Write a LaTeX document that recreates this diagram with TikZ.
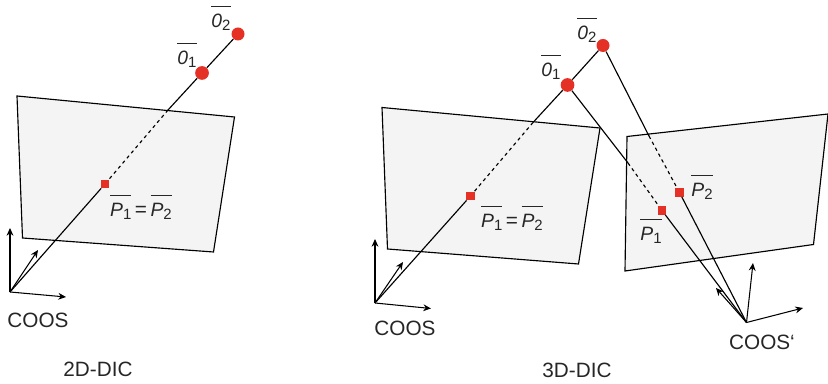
\documentclass[tikz,border=0pt]{standalone}
\usepackage{fontspec}
\setmainfont{Liberation Sans}
\usetikzlibrary{arrows.meta}
\definecolor{dotred}{HTML}{E43025}
\definecolor{platefill}{HTML}{F4F4F4}
\newcommand{\barlabel}[2]{$\overline{\mbox{\fontsize{11pt}{13pt}\selectfont\rule{0pt}{10.6pt}\itshape #1\raisebox{-.35ex}{\upshape\fontsize{8.5pt}{10pt}\selectfont #2}}}$}
\tikzset{
	plate/.style={draw=black,fill=platefill,line width=0.65pt,line join=miter},
	ray/.style={black,line width=0.65pt},
	hidden/.style={ray,dash pattern=on 1.9pt off 1.9pt},
	axis/.style={black,line width=0.6pt,-{Stealth[length=4.4pt,width=3.9pt]}},
	focus/.style={circle,fill=dotred,inner sep=0pt,minimum size=7.8pt},
	point/.style={rectangle,fill=dotred,inner sep=0pt,minimum size=4.6pt},
	lbl/.style={font=\fontsize{11.8pt}{14pt}\selectfont,text=black!85,inner sep=0pt}
}
\begin{document}
\begin{tikzpicture}[x=0.02cm,y=-0.02cm]
			\useasboundingbox (0,0) rectangle (828,384);
			
			% 2D-DIC
			\draw [plate] (17,96) -- (234.5,117) -- (213.5,252) -- (22.5,238) -- cycle;
			\coordinate (coosA) at (10,292);
			\coordinate (crossA) at (168,110);
			\coordinate (tipAx) at (66,297);
			\coordinate (tipAy) at (10,228);
			\coordinate (tipAz) at (38,250);
			\node [focus] (oneA) at (202,73) {};
			\node [focus,minimum size=7.4pt] (twoA) at (238,34) {};
			\node [point] (pA) at (105,184) {};
			\draw [ray] (twoA) -- (oneA);
			\draw [ray] (oneA) -- (crossA);
			\draw [hidden] (crossA) -- (pA);
			\draw [ray] (pA) -- (coosA);
			\draw [axis] (coosA) -- (tipAx);
			\draw [axis] (coosA) -- (tipAy);
			\draw [axis] (coosA) -- (tipAz);
			\node [lbl] (labTwoA) at (221,18) {\barlabel{0}{2}};
			\node [lbl] (labOneA) at (187,55) {\barlabel{0}{1}};
			\node [lbl] (labPA) at (141,207) {\barlabel{P}{1}\hspace{2pt}=\hspace{2pt}\barlabel{P}{2}};
			\node [lbl] (coosTextA) at (38,320) {COOS};
			\node [lbl] (titleA) at (98,369) {2D-DIC};
			
			% 3D-DIC
			\draw [plate] (382,107.5) -- (600,128) -- (578.5,264) -- (387.5,249) -- cycle;
			\draw [plate] (627,136.5) -- (828,114) -- (813.5,244.5) -- (625,271) -- cycle;
			\coordinate (coosB) at (375,303);
			\coordinate (coosC) at (746.5,322.5);
			\coordinate (crossB) at (533,122.5);
			\coordinate (crossC) at (628,163);
			\coordinate (crossD) at (649,136);
			\coordinate (tipBx) at (431,308.5);
			\coordinate (tipBy) at (375,239);
			\coordinate (tipBz) at (403,262);
			\coordinate (tipCx) at (803,308);
			\coordinate (tipCy) at (753,263);
			\coordinate (tipCz) at (716,288);
			\node [focus] (oneB) at (567.5,85) {};
			\node [focus,minimum size=7.4pt] (twoB) at (603,45.5) {};
			\node [point] (pB) at (470.5,196) {};
			\node [point] (pOne) at (662,210.5) {};
			\node [point] (pTwo) at (679.5,192.5) {};
			\draw [ray] (twoB) -- (oneB);
			\draw [ray] (oneB) -- (crossB);
			\draw [hidden] (crossB) -- (pB);
			\draw [ray] (pB) -- (coosB);
			\draw [ray] (oneB) -- (crossC);
			\draw [hidden] (crossC) -- (pOne);
			\draw [ray] (pOne) -- (coosC);
			\draw [ray] (twoB) -- (crossD);
			\draw [hidden] (crossD) -- (pTwo);
			\draw [ray] (pTwo) -- (coosC);
			\draw [axis] (coosB) -- (tipBx);
			\draw [axis] (coosB) -- (tipBy);
			\draw [axis] (coosB) -- (tipBz);
			\draw [axis] (coosC) -- (tipCx);
			\draw [axis] (coosC) -- (tipCy);
			\draw [axis] (coosC) -- (tipCz);
			\node [lbl] (labTwoB) at (587,30) {\barlabel{0}{2}};
			\node [lbl] (labOneB) at (551,67) {\barlabel{0}{1}};
			\node [lbl] (labPB) at (512,218) {\barlabel{P}{1}\hspace{2pt}=\hspace{2pt}\barlabel{P}{2}};
			\node [lbl] (labPOne) at (651,231) {\barlabel{P}{1}};
			\node [lbl] (labPTwo) at (702,187) {\barlabel{P}{2}};
			\node [lbl] (coosTextB) at (405,328) {COOS};
			\node [lbl] (coosTextC) at (762,342) {COOS‘};
			\node [lbl] (titleB) at (577,370) {3D-DIC};
			
\end{tikzpicture}
\end{document}
